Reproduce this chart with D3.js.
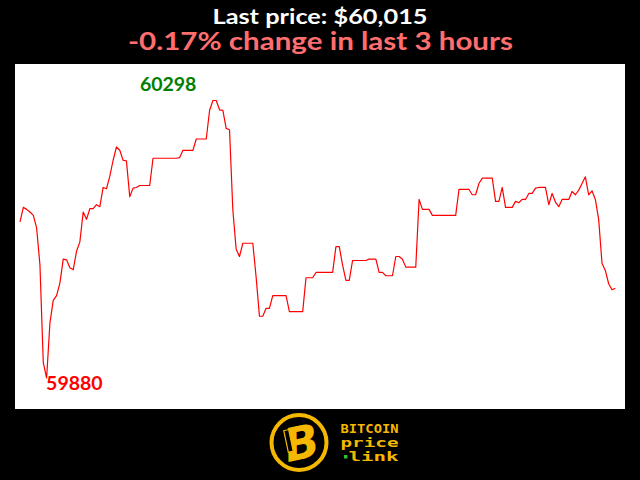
<!DOCTYPE html>
<html>
<head>
<meta charset="utf-8">
<script src="https://cdn.jsdelivr.net/npm/d3@7"></script>
<style>
html,body{margin:0;padding:0;background:#000;}
svg{display:block;}
</style>
</head>
<body>
<svg id="chart" width="640" height="480"></svg>
<script>
// ---- data (one price per minute over the last 3 hours) ----
const prices = [
  60115,60137,60134,60130,60125,60106,60050,59903,59880,59963,
  59997,60004,60023,60059,60058,60046,60043,60071,60085,60130,
  60119,60135,60135,60141,60138,60167,60165,60184,60208,60228,
  60223,60208,60207,60153,60166,60167,60170,60170,60170,60170,
  60211,60211,60211,60211,60211,60211,60211,60211,60212,60223,
  60223,60223,60223,60240,60240,60240,60240,60283,60298,60298,
  60284,60283,60256,60254,60133,60074,60063,60083,60083,60083,
  60083,60032,59973,59973,59985,59985,60004,60004,60004,60004,
  60004,59980,59980,59980,59980,59980,60031,60031,60031,60039,
  60039,60039,60039,60039,60039,60078,60078,60050,60027,60027,
  60057,60057,60057,60057,60057,60059,60059,60059,60039,60039,
  60034,60034,60034,60063,60063,60059,60047,60047,60047,60047,
  60149,60134,60134,60134,60125,60125,60125,60125,60125,60125,
  60125,60125,60164,60164,60164,60164,60156,60156,60173,60181,
  60181,60181,60181,60146,60146,60167,60137,60137,60137,60146,
  60144,60149,60149,60158,60158,60166,60167,60167,60167,60141,
  60158,60145,60138,60149,60149,60149,60161,60156,60163,60173,
  60183,60156,60162,60149,60119,60053,60042,60022,60013,60015
];
const minutes = prices.map((d, i) => i);
const titleText = "Last price: $60,015";
const changeText = "-0.17% change in last 3 hours";
const logoLines = ["BITCOIN", "price", "link"];

// ---- layout ----
const svg = d3.select("#chart");
svg.append("rect").attr("x",0).attr("y",0).attr("width",640).attr("height",480).attr("fill","#000");
svg.append("rect").attr("x",15).attr("y",64).attr("width",610).attr("height",345).attr("fill","#fff");

const x = d3.scaleLinear().domain([0, prices.length - 1]).range([20, 615.3]);
const minP = d3.min(prices), maxP = d3.max(prices);
const y = d3.scaleLinear().domain([minP, maxP]).range([378, 100.5]);

const line = d3.line().x((d, i) => x(minutes[i])).y(d => y(d));
svg.append("path").datum(prices)
  .attr("d", line).attr("fill","none").attr("stroke","#ff0000").attr("stroke-width",1.2)
  .attr("stroke-linejoin","round");

// min / max labels
const iMax = prices.indexOf(maxP), iMin = prices.indexOf(minP);
svg.append("text").text(maxP)
  .attr("x", x(iMax) - 73).attr("y", y(maxP) - 10)
  .attr("font-family","Lato, sans-serif").attr("font-weight","bold").attr("font-size",19.5)
  .attr("fill","#008000");
svg.append("text").text(minP)
  .attr("x", x(iMin) - 0.5).attr("y", y(minP) + 12)
  .attr("font-family","Lato, sans-serif").attr("font-weight","bold").attr("font-size",19.5)
  .attr("fill","#ff0000");

// titles
svg.append("text").text(titleText)
  .attr("x",320).attr("y",23.5).attr("text-anchor","middle")
  .attr("font-family","Lato, sans-serif").attr("font-weight","bold").attr("font-size",21)
  .attr("textLength",215).attr("lengthAdjust","spacingAndGlyphs")
  .attr("fill","#ffffff");
svg.append("text").text(changeText)
  .attr("x",320.5).attr("y",50).attr("text-anchor","middle")
  .attr("font-family","Lato, sans-serif").attr("font-weight","bold").attr("font-size",25)
  .attr("textLength",385).attr("lengthAdjust","spacingAndGlyphs")
  .attr("fill","#ff6e6e");

// logo
const gold = "#f5b800";
const logo = svg.append("g");
logo.append("circle").attr("cx",299).attr("cy",442.5).attr("r",27.5)
  .attr("fill","#000").attr("stroke",gold).attr("stroke-width",4);
logo.append("text").text("B")
  .attr("x",301).attr("y",459).attr("text-anchor","middle")
  .attr("font-family","DejaVu Sans, sans-serif").attr("font-weight","bold").attr("font-style","italic")
  .attr("font-size",46).attr("fill",gold).attr("transform","rotate(-12,301,442)");
logo.append("rect").attr("x",286).attr("y",430).attr("width",5).attr("height",22)
  .attr("fill","#000").attr("stroke",gold).attr("stroke-width",1.2)
  .attr("transform","rotate(-12,288,441)");
logoLines.forEach((t, i) => {
  logo.append("text").text(t)
    .attr("x", i === 2 ? 348.5 : 340.5).attr("y", 433 + i * 14)
    .attr("font-family","DejaVu Sans Mono, monospace").attr("font-weight","bold")
    .attr("font-size",12).attr("fill",gold)
    .attr("textLength", i === 0 ? 58 : (i === 1 ? 58 : 50)).attr("lengthAdjust","spacingAndGlyphs");
});
logo.append("rect").attr("x",344).attr("y",455).attr("width",3.5).attr("height",3.5).attr("fill","#2fbf2f");
</script>
</body>
</html>
